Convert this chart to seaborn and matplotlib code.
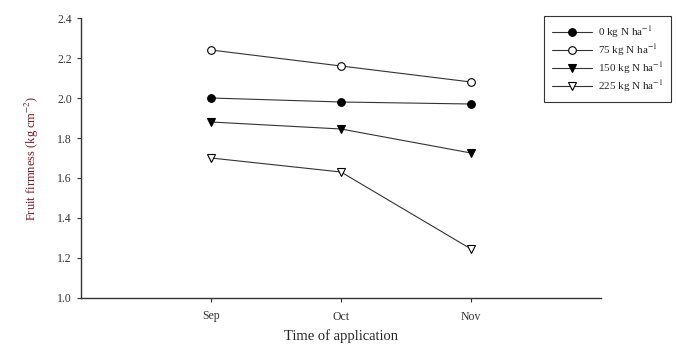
import numpy as np
import pandas as pd
import seaborn as sns
import matplotlib.pyplot as plt

# Data
months = ['Sep', 'Oct', 'Nov']
rates = ['0', '75', '150', '225']
firm_0 = [2.00, 1.98, 1.97]
firm_75 = [2.24, 2.16, 2.08]
firm_150 = [1.88, 1.845, 1.725]
firm_225 = [1.70, 1.63, 1.245]

df = pd.DataFrame({
    'month': months * 4,
    'rate': np.repeat(rates, 3),
    'firmness': firm_0 + firm_75 + firm_150 + firm_225,
})
df['pos'] = df['month'].map({m: i for i, m in enumerate(months)})

sns.set_style('ticks')
plt.rcParams['font.family'] = ['Liberation Serif', 'DejaVu Serif']
plt.rcParams['mathtext.fontset'] = 'stix'

fig = plt.figure(figsize=(6.77, 3.45), dpi=100)
ax = fig.add_axes([81 / 677, 47 / 345, 520 / 677, 280 / 345])

styles = {
    '0': dict(marker='o', mfc='black'),
    '75': dict(marker='o', mfc='white'),
    '150': dict(marker='v', mfc='black'),
    '225': dict(marker='v', mfc='white'),
}

for r in rates:
    sub = df[df['rate'] == r]
    sns.lineplot(data=sub, x='pos', y='firmness', ax=ax, color='#333333',
                 linewidth=0.8, marker=styles[r]['marker'],
                 markerfacecolor=styles[r]['mfc'], markeredgecolor='black',
                 markeredgewidth=0.8, markersize=5.5,
                 label=f'{r} kg N ha$^{{-1}}$')

ax.set_xlim(-1, 3)
ax.set_ylim(1.0, 2.4)
ax.set_xticks(range(len(months)))
ax.set_xticklabels(months)
ax.set_yticks(np.arange(1.0, 2.41, 0.2))
ax.set_yticklabels([f'{v:.1f}' for v in np.arange(1.0, 2.41, 0.2)])
ax.tick_params(axis='both', labelsize=8.5, colors='#333333', length=3, width=0.8)
ax.tick_params(axis='x', pad=6)
for s in ['left', 'bottom']:
    ax.spines[s].set_color('#333333')
    ax.spines[s].set_linewidth(1.0)
sns.despine(ax=ax)

ax.set_xlabel('Time of application', fontsize=10.5, labelpad=5)
ax.set_ylabel('Fruit firmness (kg cm$^{-2}$)', fontsize=9, color='#7a1a2a', labelpad=12)

leg = ax.legend(loc='upper left', bbox_to_anchor=(544 / 677, 329 / 345),
                bbox_transform=fig.transFigure, fontsize=8, frameon=True,
                fancybox=False, edgecolor='black', handlelength=3.6,
                borderpad=0.7, labelspacing=0.2, borderaxespad=0,
                handletextpad=0.6)
leg.get_frame().set_linewidth(0.8)

fig.savefig('out.png', dpi=100)
